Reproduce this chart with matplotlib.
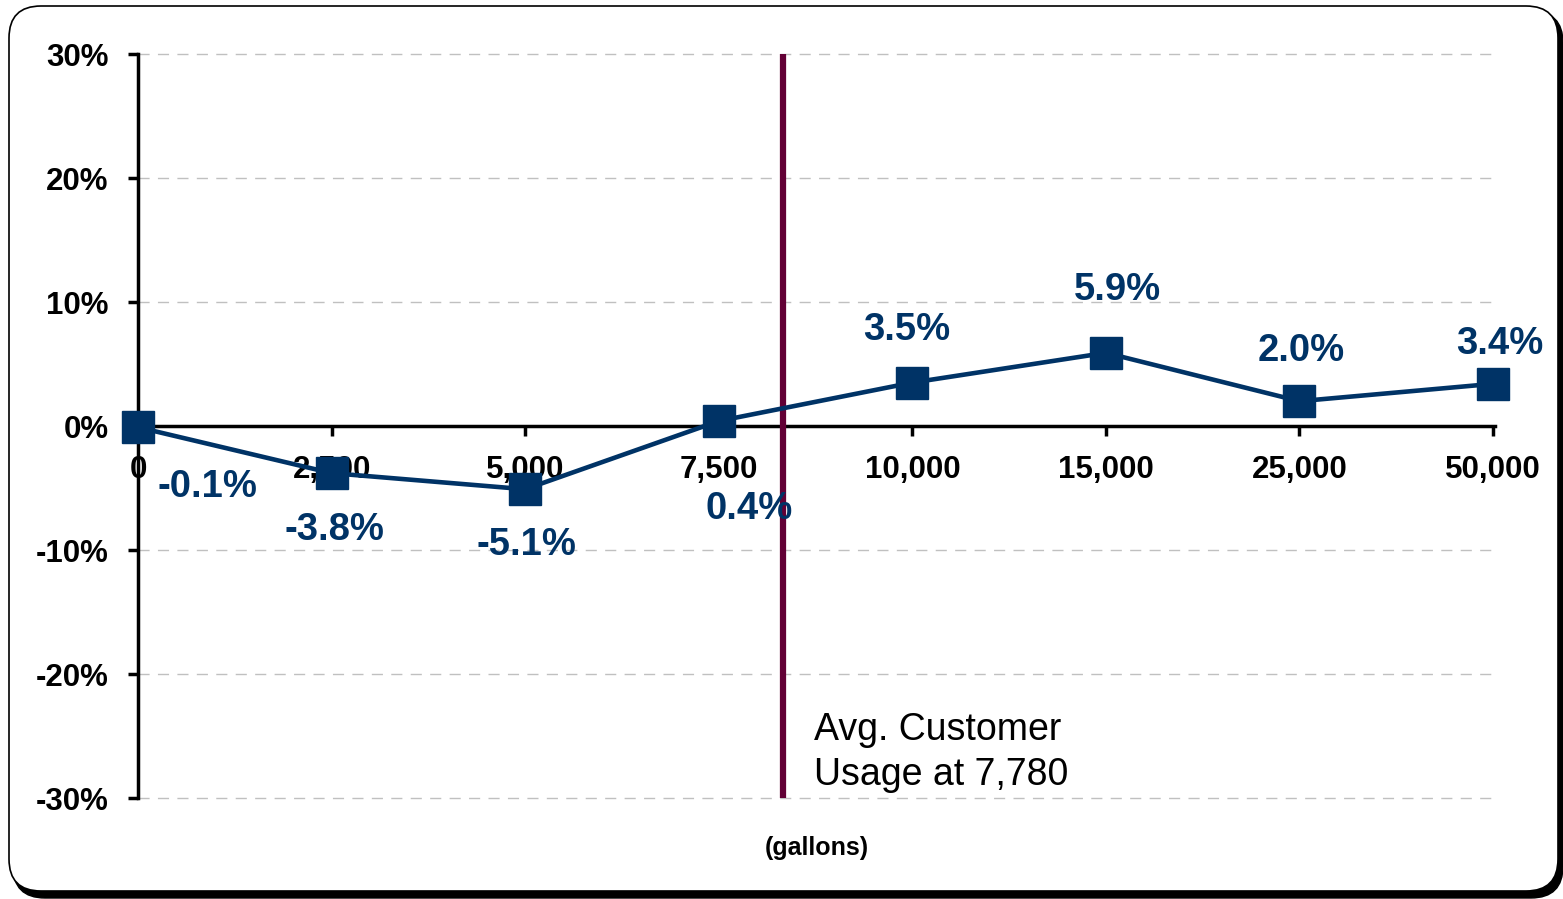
import matplotlib
matplotlib.use('Agg')
import matplotlib.pyplot as plt
from matplotlib.patches import FancyBboxPatch

plt.rcParams['font.family'] = ['Liberation Sans', 'DejaVu Sans']

# bill impact by monthly usage
usage_labels = ['0', '2,500', '5,000', '7,500', '10,000', '15,000', '25,000', '50,000']
pct_change = [-0.1, -3.8, -5.1, 0.4, 3.5, 5.9, 2.0, 3.4]
y_ticks = [30, 20, 10, 0, -10, -20, -30]
avg_usage_text = 'Avg. Customer\nUsage at 7,780'
avg_pos = 3.33  # position of the average marker on the category axis

# label offsets in points (dx, dy)
label_offsets = [(50, -43), (2, -41), (1, -40), (22, -63),
                 (-4, 38), (8, 45), (1, 36), (5, 29)]

navy = '#003366'
maroon = '#620035'

fig = plt.figure(figsize=(15.63, 8.99), dpi=100)

# rounded frame with a drop shadow
bg = fig.add_axes([0, 0, 1, 1])
bg.set_xlim(0, 1563)
bg.set_ylim(899, 0)
bg.axis('off')
shadow = FancyBboxPatch((13, 11), 1550, 887, boxstyle='round,pad=0,rounding_size=32',
                        facecolor='black', edgecolor='black')
frame = FancyBboxPatch((9, 6), 1549, 885, boxstyle='round,pad=0,rounding_size=32',
                       facecolor='white', edgecolor='black', linewidth=1.2)
bg.add_patch(shadow)
bg.add_patch(frame)

ax = fig.add_axes([138 / 1563, 101 / 899, 1357 / 1563, 744 / 899])
ax.patch.set_alpha(0)

x = list(range(len(usage_labels)))
ax.plot(x, pct_change, color=navy, linewidth=3.3, marker='s', markersize=22.5,
        markerfacecolor=navy, markeredgecolor=navy, zorder=5, clip_on=False)

for xi, v, (dx, dy) in zip(x, pct_change, label_offsets):
    ax.annotate(f'{v:.1f}%', (xi, v), xytext=(dx, dy), textcoords='offset points',
                ha='center', va='center', fontsize=27.5, fontweight='bold',
                color=navy, zorder=6)

ax.axvline(avg_pos, ymin=0, ymax=1, color=maroon, linewidth=4.5, zorder=4)
ax.text(avg_pos + 0.16, -26.3, avg_usage_text, fontsize=27, color='black',
        ha='left', va='center', linespacing=1.32)

ax.set_xlim(0, 7.01)
ax.set_ylim(-30, 30)

# dashed gridlines, zero line acts as the x axis
for yv in y_ticks:
    if yv != 0:
        ax.axhline(yv, color='#c0c0c0', linewidth=1, linestyle=(0, (8, 6)),
                   zorder=1, clip_on=False)

ax.spines['top'].set_visible(False)
ax.spines['right'].set_visible(False)
ax.spines['left'].set_linewidth(2.5)
ax.spines['bottom'].set_position(('data', 0))
ax.spines['bottom'].set_linewidth(2.5)
ax.spines['bottom'].set_zorder(3)

ax.set_xticks(x)
ax.set_xticklabels(usage_labels, fontsize=22.5, fontweight='bold')
ax.set_yticks(y_ticks)
ax.set_yticklabels([f'{v}%' for v in y_ticks], fontsize=22.5, fontweight='bold')
ax.tick_params(axis='x', direction='out', length=7, width=2.5, pad=14)
ax.tick_params(axis='y', direction='out', length=7, width=2.5, pad=14)

fig.text(817 / 1563, 1 - 848 / 899, '(gallons)', fontsize=18, fontweight='bold',
         ha='center', va='center')

fig.savefig('out.png', dpi=100)
